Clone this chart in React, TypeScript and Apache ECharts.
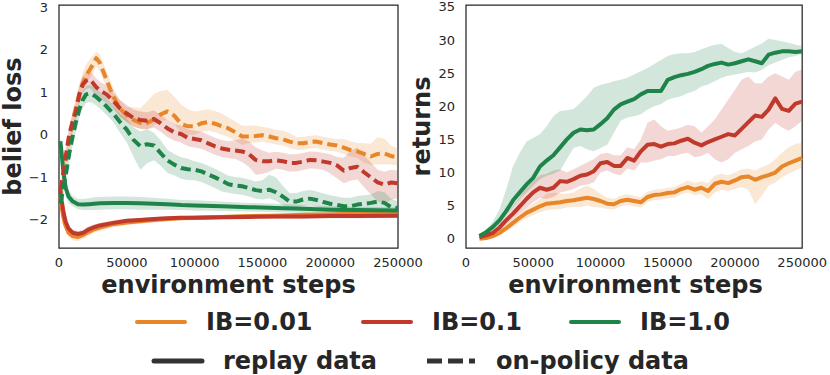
import React, { useEffect, useRef } from "react";
import * as echarts from "echarts";

// ---------- Left panel: belief loss ----------
const onPolicySteps = [1000, 3000, 5000, 7500, 10000, 12500, 15000, 17500, 20000, 22500, 25000, 27500, 30000, 35000, 40000, 45000, 50000, 55000, 60000, 65000, 70000, 75000, 80000, 85000, 90000, 95000, 100000, 105000, 110000, 115000, 120000, 125000, 130000, 135000, 140000, 145000, 150000, 155000, 160000, 165000, 170000, 175000, 180000, 185000, 190000, 195000, 200000, 205000, 210000, 215000, 220000, 225000, 230000, 235000, 240000, 245000, 250000];

const orangeOnPolicy = [-1.3, -0.95, -0.6, -0.15, 0.3, 0.65, 0.95, 1.2, 1.4, 1.52, 1.65, 1.8, 1.7, 1.3, 0.9, 0.62, 0.45, 0.35, 0.28, 0.28, 0.36, 0.48, 0.55, 0.45, 0.26, 0.2, 0.2, 0.27, 0.3, 0.26, 0.2, 0.15, 0.06, -0.04, -0.04, -0.03, -0.01, -0.04, -0.08, -0.1, -0.16, -0.2, -0.2, -0.17, -0.16, -0.2, -0.23, -0.25, -0.3, -0.36, -0.39, -0.45, -0.51, -0.45, -0.44, -0.5, -0.53];
const orangeOnLo = [0.1, 0.15, 0.2, 0.2, 0.2, 0.2, 0.2, 0.2, 0.2, 0.2, 0.2, 0.2, 0.2, 0.2, 0.2, 0.2, 0.15, 0.15, 0.15, 0.15, 0.15, 0.15, 0.2, 0.2, 0.2, 0.2, 0.2, 0.2, 0.2, 0.2, 0.2, 0.2, 0.2, 0.2, 0.15, 0.15, 0.15, 0.15, 0.15, 0.15, 0.15, 0.15, 0.15, 0.15, 0.15, 0.15, 0.15, 0.15, 0.15, 0.15, 0.15, 0.2, 0.2, 0.25, 0.25, 0.2, 0.2];
const orangeOnHi = [0.1, 0.15, 0.2, 0.2, 0.25, 0.25, 0.25, 0.25, 0.25, 0.25, 0.2, 0.15, 0.2, 0.2, 0.2, 0.2, 0.2, 0.3, 0.35, 0.5, 0.6, 0.55, 0.5, 0.45, 0.45, 0.4, 0.35, 0.3, 0.3, 0.3, 0.3, 0.25, 0.25, 0.25, 0.25, 0.25, 0.2, 0.2, 0.2, 0.2, 0.2, 0.15, 0.15, 0.15, 0.15, 0.15, 0.15, 0.15, 0.2, 0.2, 0.2, 0.25, 0.3, 0.4, 0.35, 0.25, 0.2];

const redOnPolicy = [-1.3, -0.95, -0.5, 0.0, 0.3, 0.55, 0.95, 1.18, 1.27, 1.3, 1.22, 1.12, 1.05, 0.95, 0.8, 0.62, 0.5, 0.39, 0.35, 0.33, 0.37, 0.27, 0.15, 0.06, 0.02, -0.07, -0.1, -0.13, -0.2, -0.27, -0.32, -0.35, -0.37, -0.39, -0.45, -0.59, -0.62, -0.62, -0.6, -0.62, -0.66, -0.66, -0.63, -0.59, -0.6, -0.63, -0.66, -0.72, -0.84, -0.78, -0.75, -0.88, -1.0, -1.12, -1.17, -1.12, -1.14];
const redOnLo = [0.1, 0.15, 0.2, 0.2, 0.2, 0.2, 0.2, 0.2, 0.2, 0.2, 0.2, 0.2, 0.2, 0.2, 0.2, 0.2, 0.2, 0.2, 0.2, 0.2, 0.2, 0.2, 0.2, 0.2, 0.2, 0.2, 0.2, 0.2, 0.2, 0.2, 0.2, 0.2, 0.2, 0.25, 0.3, 0.35, 0.3, 0.25, 0.2, 0.2, 0.2, 0.2, 0.2, 0.2, 0.2, 0.2, 0.25, 0.3, 0.3, 0.3, 0.3, 0.35, 0.4, 0.45, 0.45, 0.4, 0.35];
const redOnHi = [0.1, 0.15, 0.2, 0.2, 0.2, 0.2, 0.2, 0.2, 0.2, 0.2, 0.2, 0.2, 0.2, 0.2, 0.2, 0.2, 0.2, 0.2, 0.2, 0.2, 0.2, 0.2, 0.2, 0.2, 0.2, 0.2, 0.2, 0.2, 0.2, 0.2, 0.2, 0.2, 0.25, 0.3, 0.3, 0.3, 0.25, 0.2, 0.2, 0.2, 0.2, 0.2, 0.2, 0.2, 0.2, 0.2, 0.2, 0.2, 0.3, 0.4, 0.45, 0.4, 0.35, 0.3, 0.3, 0.3, 0.3];

const greenOnPolicy = [-1.62, -1.3, -0.95, -0.45, -0.05, 0.3, 0.6, 0.82, 0.95, 0.97, 0.94, 0.89, 0.82, 0.67, 0.5, 0.3, 0.12, -0.12, -0.27, -0.22, -0.25, -0.43, -0.6, -0.7, -0.78, -0.81, -0.82, -0.86, -0.93, -1.0, -1.08, -1.16, -1.19, -1.21, -1.25, -1.3, -1.32, -1.29, -1.35, -1.45, -1.57, -1.57, -1.52, -1.5, -1.53, -1.58, -1.62, -1.65, -1.68, -1.68, -1.64, -1.62, -1.6, -1.57, -1.6, -1.7, -1.72];
const greenOnLo = [0.1, 0.15, 0.2, 0.2, 0.2, 0.2, 0.2, 0.2, 0.2, 0.2, 0.2, 0.2, 0.2, 0.2, 0.2, 0.25, 0.3, 0.4, 0.55, 0.45, 0.35, 0.3, 0.3, 0.25, 0.25, 0.25, 0.25, 0.25, 0.25, 0.25, 0.25, 0.2, 0.2, 0.2, 0.2, 0.2, 0.2, 0.2, 0.2, 0.2, 0.15, 0.15, 0.15, 0.15, 0.15, 0.15, 0.15, 0.15, 0.15, 0.15, 0.15, 0.15, 0.15, 0.15, 0.15, 0.15, 0.15];
const greenOnHi = [0.1, 0.15, 0.2, 0.2, 0.2, 0.2, 0.2, 0.2, 0.2, 0.2, 0.2, 0.2, 0.2, 0.2, 0.2, 0.2, 0.25, 0.3, 0.35, 0.35, 0.3, 0.3, 0.25, 0.25, 0.25, 0.25, 0.2, 0.2, 0.2, 0.2, 0.2, 0.2, 0.2, 0.2, 0.2, 0.2, 0.25, 0.35, 0.35, 0.25, 0.2, 0.2, 0.2, 0.2, 0.2, 0.2, 0.2, 0.2, 0.2, 0.2, 0.2, 0.2, 0.2, 0.25, 0.25, 0.2, 0.15];

const replaySteps = [1000, 2000, 3000, 4000, 5000, 7000, 10000, 14000, 18000, 22000, 26000, 30000, 40000, 50000, 60000, 70000, 80000, 90000, 100000, 120000, 140000, 160000, 180000, 200000, 220000, 250000];
const orangeReplay = [-1.45, -1.7, -1.9, -2.05, -2.15, -2.3, -2.38, -2.4, -2.35, -2.28, -2.22, -2.18, -2.1, -2.06, -2.03, -2.0, -1.98, -1.96, -1.95, -1.93, -1.91, -1.9, -1.88, -1.87, -1.85, -1.83];
const orangeReplayW = [0.15, 0.15, 0.15, 0.12, 0.1, 0.1, 0.1, 0.1, 0.09, 0.09, 0.08, 0.08, 0.07, 0.06, 0.06, 0.06, 0.05, 0.05, 0.05, 0.05, 0.05, 0.05, 0.05, 0.05, 0.05, 0.05];
const redReplay = [-1.3, -1.55, -1.75, -1.92, -2.05, -2.2, -2.3, -2.33, -2.3, -2.22, -2.17, -2.13, -2.07, -2.02, -2.0, -1.98, -1.96, -1.95, -1.95, -1.94, -1.93, -1.92, -1.92, -1.91, -1.91, -1.9];
const redReplayW = [0.1, 0.1, 0.1, 0.1, 0.08, 0.07, 0.07, 0.07, 0.07, 0.07, 0.07, 0.06, 0.06, 0.05, 0.05, 0.05, 0.05, 0.05, 0.05, 0.05, 0.05, 0.05, 0.05, 0.05, 0.05, 0.05];
const greenReplay = [-0.15, -0.45, -0.8, -1.05, -1.25, -1.45, -1.56, -1.63, -1.64, -1.63, -1.62, -1.61, -1.6, -1.6, -1.61, -1.62, -1.63, -1.65, -1.66, -1.68, -1.7, -1.72, -1.74, -1.76, -1.77, -1.78];
const greenReplayW = [0.1, 0.15, 0.2, 0.2, 0.2, 0.15, 0.12, 0.12, 0.13, 0.14, 0.15, 0.15, 0.15, 0.15, 0.15, 0.14, 0.13, 0.12, 0.12, 0.11, 0.1, 0.1, 0.09, 0.08, 0.08, 0.08];

const lossTicks = [-2, -1, 0, 1, 2, 3];

// ---------- Right panel: returns ----------
const returnSteps = [10000, 15000, 20000, 25000, 30000, 35000, 40000, 45000, 50000, 55000, 60000, 65000, 70000, 75000, 80000, 85000, 90000, 95000, 100000, 105000, 110000, 115000, 120000, 125000, 130000, 135000, 140000, 145000, 150000, 155000, 160000, 165000, 170000, 175000, 180000, 185000, 190000, 195000, 200000, 205000, 210000, 215000, 220000, 225000, 230000, 235000, 240000, 245000, 250000];

const orangeReturns = [0.0, 0.1, 0.4, 0.9, 1.6, 2.4, 3.2, 3.9, 4.4, 4.9, 5.3, 5.4, 5.5, 5.7, 5.8, 6.0, 6.2, 6.0, 5.7, 5.3, 5.2, 5.7, 5.9, 5.7, 5.5, 6.3, 6.6, 6.7, 6.9, 7.0, 7.5, 7.8, 7.4, 7.7, 7.2, 8.3, 8.6, 8.4, 8.8, 9.3, 9.4, 8.9, 9.3, 9.6, 10.0, 10.9, 11.4, 11.8, 12.2];
const orangeLow = [-0.1, 0.0, 0.2, 0.6, 1.1, 1.8, 2.5, 3.1, 3.6, 4.0, 4.3, 4.4, 4.5, 4.7, 4.8, 4.8, 5.0, 4.8, 4.7, 4.5, 4.4, 4.9, 5.1, 4.9, 4.7, 5.5, 5.8, 5.9, 6.1, 6.2, 6.7, 7.0, 6.6, 6.7, 6.0, 7.0, 7.4, 7.2, 7.5, 7.8, 7.4, 5.2, 6.5, 8.0, 8.5, 9.3, 9.8, 10.3, 10.8];
const orangeHigh = [0.1, 0.3, 0.7, 1.3, 2.1, 3.0, 3.9, 4.7, 5.3, 6.0, 6.8, 7.0, 6.8, 6.8, 7.0, 7.6, 8.0, 7.5, 6.8, 6.2, 6.0, 6.5, 6.7, 6.5, 6.3, 7.1, 7.4, 7.5, 7.7, 7.8, 8.3, 8.8, 8.4, 8.7, 8.4, 9.5, 9.8, 9.6, 10.0, 10.5, 10.6, 10.3, 10.8, 11.2, 12.0, 13.0, 13.8, 14.3, 14.5];

const redReturns = [0.2, 0.5, 0.9, 1.7, 2.8, 3.8, 4.9, 6.0, 7.0, 7.7, 7.4, 7.7, 8.7, 8.6, 9.0, 9.5, 9.7, 10.2, 11.4, 11.6, 11.0, 11.0, 12.2, 11.8, 13.2, 14.2, 14.3, 13.9, 14.3, 14.4, 14.8, 15.1, 14.5, 14.1, 14.6, 15.0, 15.4, 15.8, 15.6, 16.6, 17.6, 18.6, 18.4, 19.5, 21.2, 19.6, 19.3, 20.4, 20.7];
const redLow = [0.1, 0.3, 0.6, 1.2, 2.1, 3.0, 3.9, 4.7, 5.5, 6.2, 6.0, 6.3, 7.0, 7.2, 7.5, 8.0, 8.2, 8.5, 10.0, 10.3, 9.8, 9.6, 10.6, 10.3, 11.5, 11.5, 11.8, 12.0, 12.5, 12.5, 12.8, 13.0, 12.3, 12.5, 13.0, 12.0, 11.5, 12.0, 13.0, 13.5, 14.0, 14.7, 15.0, 16.5, 17.5, 16.8, 16.3, 17.0, 17.8];
const redHigh = [0.3, 0.7, 1.3, 2.3, 3.6, 4.9, 6.3, 7.8, 8.8, 9.6, 9.8, 10.3, 10.5, 10.0, 10.5, 11.0, 11.5, 12.0, 12.8, 13.0, 12.6, 12.6, 13.8, 13.5, 15.0, 17.5, 18.0, 17.0, 16.3, 16.5, 16.8, 17.2, 17.0, 16.0, 17.0, 18.0, 19.5, 21.0, 22.5, 24.0, 24.5, 23.5, 23.5, 24.5, 25.0, 24.5, 24.0, 25.2, 25.6];

const greenReturns = [0.4, 1.0, 1.8, 2.8, 4.2, 5.8, 7.0, 8.2, 9.2, 10.9, 11.8, 12.6, 13.8, 15.0, 16.0, 16.5, 16.4, 16.5, 17.3, 18.2, 19.5, 20.3, 20.7, 21.1, 21.8, 22.3, 22.3, 22.3, 24.0, 24.4, 24.7, 24.9, 25.2, 25.6, 26.1, 26.4, 26.6, 26.3, 26.5, 26.8, 27.1, 26.8, 26.5, 27.8, 28.1, 28.3, 28.3, 28.2, 28.3];
const greenLow = [0.2, 0.7, 1.3, 2.2, 3.5, 4.8, 6.0, 7.0, 8.0, 9.0, 9.5, 9.8, 10.3, 12.0, 13.7, 14.0, 13.5, 13.2, 13.7, 14.2, 16.0, 17.8, 18.3, 18.5, 18.8, 19.5, 20.0, 20.3, 21.0, 21.3, 21.5, 22.0, 22.3, 23.0, 23.3, 23.8, 24.3, 24.6, 24.8, 25.0, 25.2, 25.1, 25.5, 26.2, 26.6, 27.0, 27.4, 27.6, 27.9];
const greenHigh = [0.6, 1.4, 2.6, 4.5, 7.5, 11.0, 13.0, 14.7, 15.2, 15.8, 17.0, 18.5, 19.3, 19.4, 19.6, 20.5, 21.5, 22.8, 23.2, 23.5, 23.8, 24.0, 24.3, 24.8, 25.3, 25.8, 26.4, 27.0, 27.6, 27.9, 28.0, 28.0, 28.2, 28.6, 29.0, 29.3, 29.4, 28.8, 28.2, 28.0, 28.5, 29.0, 29.5, 30.2, 30.0, 29.8, 29.6, 29.3, 29.1];

const returnTicks = [0, 5, 10, 15, 20, 25, 30, 35];

const legendRow1 = ["IB=0.01", "IB=0.1", "IB=1.0"];
const legendRow2 = ["replay data", "on-policy data"];

const ORANGE = "#E8862A";
const RED = "#C0392B";
const GREEN = "#1E8449";
const INK = "#262626";
const FONT = "'DejaVu Sans', 'Liberation Sans', sans-serif";

function fade(hex: string, a: number) {
  const n = parseInt(hex.slice(1), 16);
  return `rgba(${(n >> 16) & 255},${(n >> 8) & 255},${n & 255},${a})`;
}

function bandSeries(axis: number, steps: number[], lower: number[], upper: number[], color: string) {
  return {
    type: "custom", xAxisIndex: axis, yAxisIndex: axis, silent: true, z: 1, clip: true,
    data: [[steps[0], lower[0]]],
    encode: { x: 0, y: 1 },
    renderItem: (_params: any, api: any) => {
      const pts: number[][] = [];
      for (let i = 0; i < steps.length; i++) pts.push(api.coord([steps[i], upper[i]]));
      for (let i = steps.length - 1; i >= 0; i--) pts.push(api.coord([steps[i], lower[i]]));
      return { type: "polygon", shape: { points: pts }, style: { fill: fade(color, 0.2), stroke: "none" } };
    },
  };
}

function lineSeries(axis: number, steps: number[], vals: number[], color: string, dashed: boolean) {
  return {
    type: "line", xAxisIndex: axis, yAxisIndex: axis,
    data: steps.map((s, i) => [s, vals[i]]), symbol: "none", silent: true, z: 3,
    lineStyle: { color, width: 4, type: dashed ? [10, 5] : "solid", cap: "butt", join: "round" },
  };
}

const minus = (v: number) => (v < 0 ? "\u2212" + Math.abs(v) : String(v));

export default function App() {
  const ref = useRef<HTMLDivElement>(null);
  useEffect(() => {
    if (!ref.current) return;
    const chart = echarts.init(ref.current, null, { renderer: "svg" });

    const sub = (a: number[], b: number[]) => a.map((v, i) => v - b[i]);
    const add = (a: number[], b: number[]) => a.map((v, i) => v + b[i]);

    const series: any[] = [
      bandSeries(0, replaySteps, sub(orangeReplay, orangeReplayW), add(orangeReplay, orangeReplayW), ORANGE),
      bandSeries(0, replaySteps, sub(redReplay, redReplayW), add(redReplay, redReplayW), RED),
      bandSeries(0, replaySteps, sub(greenReplay, greenReplayW), add(greenReplay, greenReplayW), GREEN),
      bandSeries(0, onPolicySteps, sub(orangeOnPolicy, orangeOnLo), add(orangeOnPolicy, orangeOnHi), ORANGE),
      bandSeries(0, onPolicySteps, sub(redOnPolicy, redOnLo), add(redOnPolicy, redOnHi), RED),
      bandSeries(0, onPolicySteps, sub(greenOnPolicy, greenOnLo), add(greenOnPolicy, greenOnHi), GREEN),
      lineSeries(0, replaySteps, orangeReplay, ORANGE, false),
      lineSeries(0, replaySteps, redReplay, RED, false),
      lineSeries(0, replaySteps, greenReplay, GREEN, false),
      lineSeries(0, onPolicySteps, orangeOnPolicy, ORANGE, true),
      lineSeries(0, onPolicySteps, redOnPolicy, RED, true),
      lineSeries(0, onPolicySteps, greenOnPolicy, GREEN, true),
      bandSeries(1, returnSteps, orangeLow, orangeHigh, ORANGE),
      bandSeries(1, returnSteps, redLow, redHigh, RED),
      bandSeries(1, returnSteps, greenLow, greenHigh, GREEN),
      lineSeries(1, returnSteps, orangeReturns, ORANGE, false),
      lineSeries(1, returnSteps, redReturns, RED, false),
      lineSeries(1, returnSteps, greenReturns, GREEN, false),
    ];

    const xAxisBase = {
      type: "value", min: 0, max: 250000, interval: 50000,
      axisLine: { show: false }, axisTick: { show: false }, splitLine: { show: false },
      axisLabel: { fontSize: 13, color: INK, fontFamily: FONT, margin: 8, formatter: (v: number) => String(v) },
    };
    const yLabel = { fontSize: 13, color: INK, fontFamily: FONT, margin: 11 };

    const titleFont = { fontSize: 24, fontWeight: "bold", fontFamily: FONT, fill: INK };
    const legendFont = { fontSize: 24, fontWeight: "bold", fontFamily: FONT, fill: INK };

    const graphic: any[] = [
      { type: "text", x: 12.5, y: 126.5, rotation: Math.PI / 2, style: { text: "belief loss", ...titleFont, align: "center", verticalAlign: "middle" } },
      { type: "text", x: 421.5, y: 126.5, rotation: Math.PI / 2, style: { text: "returns", ...titleFont, align: "center", verticalAlign: "middle" } },
      { type: "text", x: 228.5, y: 285, style: { text: "environment steps", ...titleFont, align: "center", verticalAlign: "middle" } },
      { type: "text", x: 635.5, y: 285, style: { text: "environment steps", ...titleFont, align: "center", verticalAlign: "middle" } },
      // legend row 1
      { type: "line", shape: { x1: 137, y1: 322, x2: 185, y2: 322 }, style: { stroke: ORANGE, lineWidth: 4, lineCap: "round" } },
      { type: "text", x: 206, y: 322, style: { text: legendRow1[0], ...legendFont, align: "left", verticalAlign: "middle" } },
      { type: "line", shape: { x1: 363, y1: 322, x2: 411, y2: 322 }, style: { stroke: RED, lineWidth: 4, lineCap: "round" } },
      { type: "text", x: 432, y: 322, style: { text: legendRow1[1], ...legendFont, align: "left", verticalAlign: "middle" } },
      { type: "line", shape: { x1: 571, y1: 322, x2: 619, y2: 322 }, style: { stroke: GREEN, lineWidth: 4, lineCap: "round" } },
      { type: "text", x: 640, y: 322, style: { text: legendRow1[2], ...legendFont, align: "left", verticalAlign: "middle" } },
      // legend row 2
      { type: "line", shape: { x1: 154, y1: 361, x2: 202, y2: 361 }, style: { stroke: "#333333", lineWidth: 5, lineCap: "round" } },
      { type: "text", x: 223, y: 361, style: { text: legendRow2[0], ...legendFont, align: "left", verticalAlign: "middle" } },
      { type: "line", shape: { x1: 427, y1: 361, x2: 475, y2: 361 }, style: { stroke: "#333333", lineWidth: 5, lineDash: [15, 6] } },
      { type: "text", x: 496, y: 361, style: { text: legendRow2[1], ...legendFont, align: "left", verticalAlign: "middle" } },
    ];

    const option: any = {
      animation: false,
      backgroundColor: "#ffffff",
      grid: [
        { left: 59, top: 5, width: 339, height: 243, show: true, borderColor: INK, borderWidth: 1.25, backgroundColor: "transparent" },
        { left: 466, top: 5, width: 339, height: 243, show: true, borderColor: INK, borderWidth: 1.25, backgroundColor: "transparent" },
      ],
      xAxis: [
        { ...xAxisBase, gridIndex: 0 },
        { ...xAxisBase, gridIndex: 1 },
      ],
      yAxis: [
        {
          type: "value", gridIndex: 0, min: -2.66, max: 3.05,
          axisLine: { show: false }, axisTick: { show: false }, splitLine: { show: false },
          axisLabel: { ...yLabel, customValues: lossTicks, formatter: (v: number) => minus(v) },
        },
        {
          type: "value", gridIndex: 1, min: -1.4, max: 35.3,
          axisLine: { show: false }, axisTick: { show: false }, splitLine: { show: false },
          axisLabel: { ...yLabel, customValues: returnTicks, formatter: (v: number) => minus(v) },
        },
      ],
      series,
      graphic,
    };
    chart.setOption(option);
    return () => chart.dispose();
  }, []);

  return <div ref={ref} style={{ position: "absolute", left: 0, top: 0, width: 830, height: 375 }} />;
}
